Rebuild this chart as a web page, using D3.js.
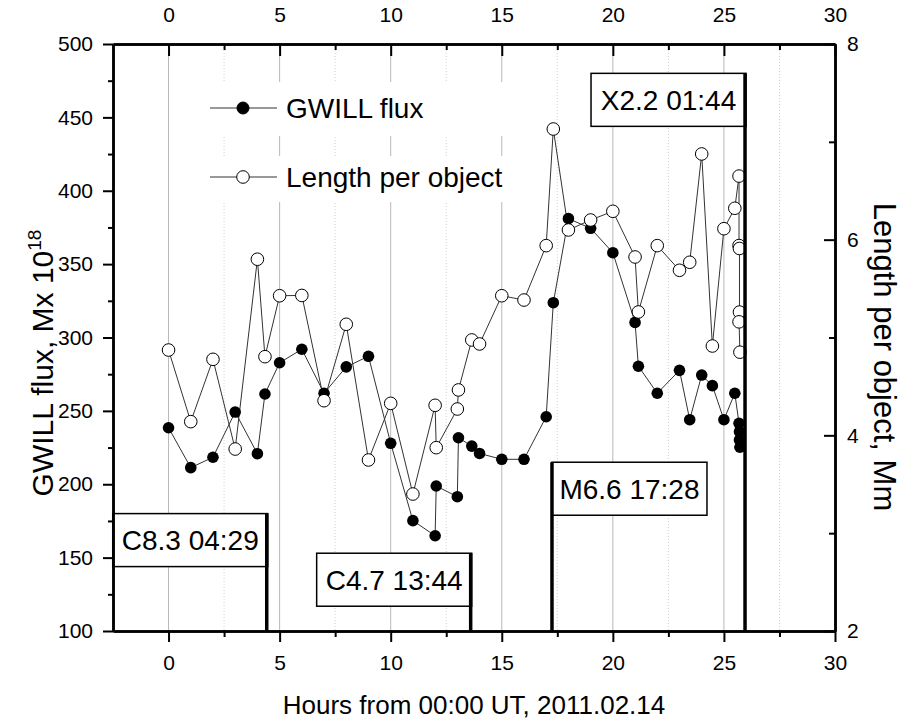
<!DOCTYPE html>
<html><head><meta charset="utf-8">
<script src="https://cdn.jsdelivr.net/npm/d3@7"></script>
<style>
body{margin:0;background:#fff;}
svg{display:block;font-family:"Liberation Sans",Arial,sans-serif;}
</style></head>
<body><svg id="c" width="907" height="724"></svg>
<script>
// ---- data ----
const fluxHours = [0,1,2,3,4,4.34,5,6,7,8,9,10,11,12,12.05,13,13.05,13.65,14,15,16,17,17.32,18,19,20,21,21.15,22,23,23.46,24,24.48,25,25.49,25.68,25.7,25.7,25.72];
const fluxValues = [238.5,211.3,218.4,249.2,220.8,261.5,282.8,292,262,280,287.2,227.9,175.2,164.9,198.8,191.5,231.7,226,221,217,217,246,323.7,381,374.4,357.8,310.3,280.4,262,277.6,244,274.4,267.2,244,262,241.5,235.8,230.2,225.2];
const lengthHours = [0,1,2,3,4,4.34,5,6,7,8,9,10,11,12,12.05,13,13.05,13.65,14,15,16,17,17.32,18,19,20,21,21.15,22,23,23.46,24,24.48,25,25.49,25.68,25.68,25.7,25.7,25.68,25.72];
const lengthValues = [4.872,4.14,4.777,3.86,5.80,4.804,5.427,5.43,4.354,5.135,3.748,4.327,3.40,4.307,3.874,4.269,4.464,4.975,4.934,5.427,5.383,5.939,7.131,6.099,6.201,6.29,5.823,5.261,5.939,5.687,5.769,6.876,4.913,6.112,6.321,6.65,5.94,5.91,5.26,5.16,4.85];
const flareLabels = ["C8.3 04:29","C4.7 13:44","M6.6 17:28","X2.2 01:44"];
const flareHours = [4.42,13.60,17.26,25.95];
const flareTops = [180,153,215,480];          // left-axis units where each marker line begins
const flareBoxSide = ["left","left","right","left"];
const xMajorTicks = [0,5,10,15,20,25,30];
const xMinorTicks = [2.5,7.5,12.5,17.5,22.5,27.5];
const yLeftTicks = [100,150,200,250,300,350,400,450,500];
const yLeftMinor = [125,175,225,275,325,375,425,475];
const yRightTicks = [2,4,6,8];
const yRightMinor = [3,5,7];
const legendLabels = ["GWILL flux","Length per object"];

// ---- scales ----
const svg = d3.select("#c");
const L=113,R=835,T=44,B=631;
const x = d3.scaleLinear().domain([-2.5,30]).range([L,R]);
const yL = d3.scaleLinear().domain([100,500]).range([B,T]);
const yR = d3.scaleLinear().domain([2,8]).range([B,T]);

// grid
svg.append("g").selectAll("line").data(xMajorTicks.filter(d=>d<30)).join("line")
  .attr("x1",d=>x(d)).attr("x2",d=>x(d)).attr("y1",T).attr("y2",B)
  .attr("stroke","#b8b8b8").attr("stroke-width",1);
svg.append("g").selectAll("line").data(xMinorTicks).join("line")
  .attr("x1",d=>x(d)).attr("x2",d=>x(d)).attr("y1",T).attr("y2",B)
  .attr("stroke","#d0d0d0").attr("stroke-width",1).attr("stroke-dasharray","1,2");

// legend
const lg = svg.append("g");
lg.append("rect").attr("x",200).attr("y",82).attr("width",318).attr("height",54).attr("fill","#fff");
lg.append("rect").attr("x",200).attr("y",156).attr("width",318).attr("height",46).attr("fill","#fff");
const legY=[108,177];
legendLabels.forEach((t,i)=>{
  lg.append("line").attr("x1",210).attr("x2",277).attr("y1",legY[i]).attr("y2",legY[i]).attr("stroke","#333").attr("stroke-width",1);
  lg.append("circle").attr("cx",243).attr("cy",legY[i]).attr("r",i?6.3:6)
    .attr("fill",i?"#fff":"#000").attr("stroke","#000").attr("stroke-width",1);
  lg.append("text").attr("x",286).attr("y",legY[i]+10).attr("font-size",28).text(t);
});

// data
const fluxData = fluxHours.map((h,i)=>({h,v:fluxValues[i]}));
const lenData = lengthHours.map((h,i)=>({h,v:lengthValues[i]}));
svg.append("path").datum(fluxData).attr("fill","none").attr("stroke","#333").attr("stroke-width",1)
  .attr("d",d3.line().x(d=>x(d.h)).y(d=>yL(d.v)));
svg.append("path").datum(lenData).attr("fill","none").attr("stroke","#333").attr("stroke-width",1)
  .attr("d",d3.line().x(d=>x(d.h)).y(d=>yR(d.v)));
svg.append("g").selectAll("circle").data(fluxData).join("circle")
  .attr("cx",d=>x(d.h)).attr("cy",d=>yL(d.v)).attr("r",5.8).attr("fill","#000");
svg.append("g").selectAll("circle").data(lenData).join("circle")
  .attr("cx",d=>x(d.h)).attr("cy",d=>yR(d.v)).attr("r",6.3).attr("fill","#fff").attr("stroke","#000").attr("stroke-width",1);

// flare markers
const boxW=155, boxH=53;
flareLabels.forEach((t,i)=>{
  const lx = x(flareHours[i]), top = yL(flareTops[i]);
  const bx = flareBoxSide[i]==="left" ? lx-boxW+1 : lx;
  const g = svg.append("g");
  g.append("rect").attr("x",bx).attr("y",top).attr("width",boxW).attr("height",boxH)
    .attr("fill","#fff").attr("stroke","#000").attr("stroke-width",1.5);
  g.append("text").attr("x",bx+boxW/2).attr("y",top+boxH/2+10).attr("text-anchor","middle")
    .attr("font-size",28).text(t);
  g.append("line").attr("x1",lx).attr("x2",lx).attr("y1",top).attr("y2",B)
    .attr("stroke","#000").attr("stroke-width",3.5);
});

// axes
function styleAxis(g, fs){
  g.selectAll(".domain").attr("stroke","#000").attr("stroke-width",2.5);
  g.selectAll(".tick line").attr("stroke","#000").attr("stroke-width",2);
  g.selectAll("text").attr("font-size",fs).attr("fill","#000").attr("font-family","'Liberation Sans',Arial,sans-serif");
}
const gb = svg.append("g").attr("transform",`translate(0,${B})`)
  .call(d3.axisBottom(x).tickValues(xMajorTicks).tickSize(11).tickSizeOuter(0).tickPadding(13).tickFormat(d3.format("d")));
styleAxis(gb,21);
const gbm = svg.append("g").attr("transform",`translate(0,${B})`)
  .call(d3.axisBottom(x).tickValues(xMinorTicks).tickSize(6).tickSizeOuter(0).tickFormat(""));
styleAxis(gbm,21);
const gt = svg.append("g").attr("transform",`translate(0,${T})`)
  .call(d3.axisTop(x).tickValues(xMajorTicks).tickSize(-12).tickSizeOuter(0).tickPadding(22).tickFormat(d3.format("d")));
styleAxis(gt,21);
const gtm = svg.append("g").attr("transform",`translate(0,${T})`)
  .call(d3.axisTop(x).tickValues(xMinorTicks).tickSize(-6).tickSizeOuter(0).tickFormat(""));
styleAxis(gtm,21);
const gl = svg.append("g").attr("transform",`translate(${L},0)`)
  .call(d3.axisLeft(yL).tickValues(yLeftTicks).tickSize(10).tickSizeOuter(0).tickPadding(10).tickFormat(d3.format("d")));
styleAxis(gl,21);
const glm = svg.append("g").attr("transform",`translate(${L},0)`)
  .call(d3.axisLeft(yL).tickValues(yLeftMinor).tickSize(5).tickSizeOuter(0).tickFormat(""));
styleAxis(glm,21);
const gr = svg.append("g").attr("transform",`translate(${R},0)`)
  .call(d3.axisRight(yR).tickValues(yRightTicks).tickSize(-11).tickSizeOuter(0).tickPadding(12).tickFormat(d3.format("d")));
styleAxis(gr,21);
const grm = svg.append("g").attr("transform",`translate(${R},0)`)
  .call(d3.axisRight(yR).tickValues(yRightMinor).tickSize(-6).tickSizeOuter(0).tickFormat(""));
styleAxis(grm,21);

// axis titles
svg.append("text").attr("x",(L+R)/2).attr("y",714).attr("text-anchor","middle").attr("font-size",26)
  .text("Hours from 00:00 UT, 2011.02.14");
const lt = svg.append("text").attr("transform","translate(53,363) rotate(-90)").attr("text-anchor","middle").attr("font-size",30);
lt.append("tspan").text("GWILL flux, Mx 10");
lt.append("tspan").attr("dy",-12).attr("font-size",19).text("18");
svg.append("text").attr("transform","translate(874,357) rotate(90)").attr("text-anchor","middle").attr("font-size",31)
  .text("Length per object, Mm");
</script></body></html>
